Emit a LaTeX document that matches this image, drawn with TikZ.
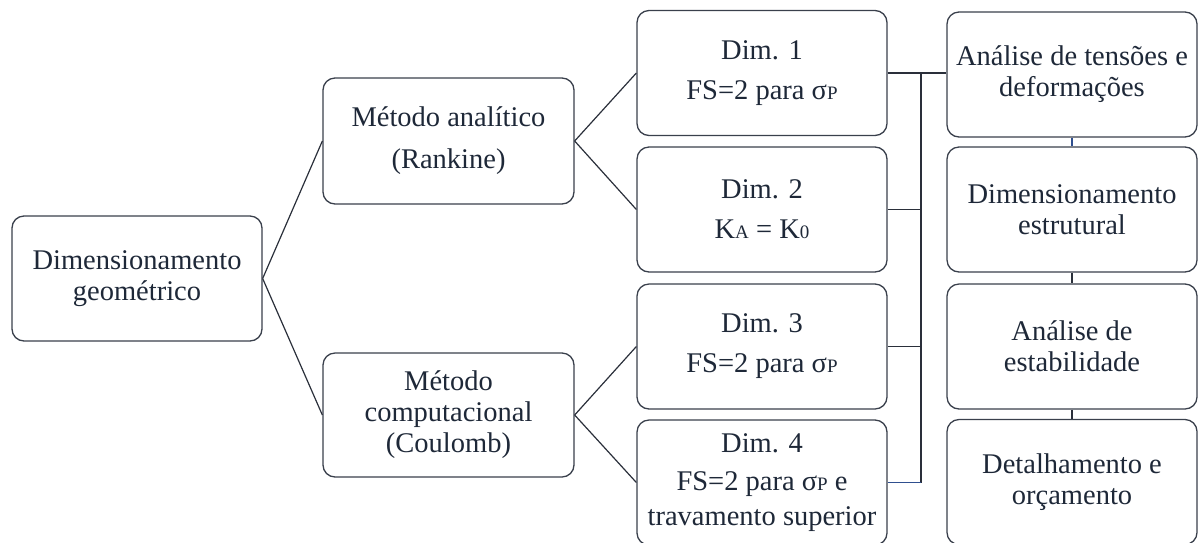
\documentclass[tikz,border=0pt]{standalone}
\usepackage{fontspec}
\setmainfont{Liberation Serif}
\definecolor{txt}{HTML}{1E2838}
\definecolor{edge}{HTML}{3A404C}
\definecolor{ln}{HTML}{2A2F3A}
\definecolor{bl}{HTML}{2F4F8F}
\newcommand{\smp}[1]{{\fontsize{19}{19}\selectfont #1}}
\begin{document}
\begin{tikzpicture}[x=1pt,y=-1pt,
  box/.style={draw=edge, line width=1.3pt, rounded corners=12pt, fill=white,
    minimum width=250pt, minimum height=125pt, inner sep=0pt, align=center,
    text=txt, font=\fontsize{28.5}{31}\selectfont},
  conn/.style={draw=ln, line width=1.2pt},
  bconn/.style={draw=bl, line width=1.2pt}]
\useasboundingbox (0,0) rectangle (1198,542);
\node[box] (root) at (137,278.5) {Dimensionamento\\geométrico};
\node[box, minimum width=251pt, minimum height=126pt] (ana) at (448.5,141) {Método analítico\\[11pt](Rankine)};
\node[box, minimum width=251pt, minimum height=124pt] (comp) at (448.5,415) {Método\\computacional\\(Coulomb)};
\node[box] (d1) at (762,73) {Dim. 1\\[9pt]FS=2 para σ\smp{P}};
\node[box] (d2) at (762,209.5) {Dim. 2\\[9pt]K\smp{A} = K\smp{0}};
\node[box] (d3) at (762,346.5) {Dim. 3\\[9pt]FS=2 para σ\smp{P}};
\node[box] (d4) at (762,482.5) {Dim. 4\\[7pt]FS=2 para σ\smp{P} e\\[4pt]travamento superior};
\node[box] (r1) at (1072,74.5) {Análise de tensões e\\deformações};
\node[box] (r2) at (1072,209.5) {Dimensionamento\\estrutural};
\node[box] (r3) at (1072,346.5) {Análise de\\estabilidade};
\node[box] (r4) at (1072,482) {Detalhamento e\\orçamento};
\coordinate (bt) at (921,73);
\coordinate (bb) at (921,482.5);
\draw[conn] (root.east) -- (ana.west);
\draw[conn] (root.east) -- (comp.west);
\draw[conn] (ana.east) -- (d1.west);
\draw[conn] (ana.east) -- (d2.west);
\draw[conn] (comp.east) -- (d3.west);
\draw[conn] (comp.east) -- (d4.west);
\draw[conn] (d1.east) -- (d1.east -| r1.west);
\draw[conn] (bt) -- (bb);
\draw[conn] (d2.east) -- (d2.east -| bt);
\draw[conn] (d3.east) -- (d3.east -| bt);
\draw[bconn] (d4.east) -- (bb);
\draw[bconn] (r1.south) -- (r2.north);
\draw[conn] (r2.south) -- (r3.north);
\draw[conn] (r3.south) -- (r4.north);
\end{tikzpicture}
\end{document}
